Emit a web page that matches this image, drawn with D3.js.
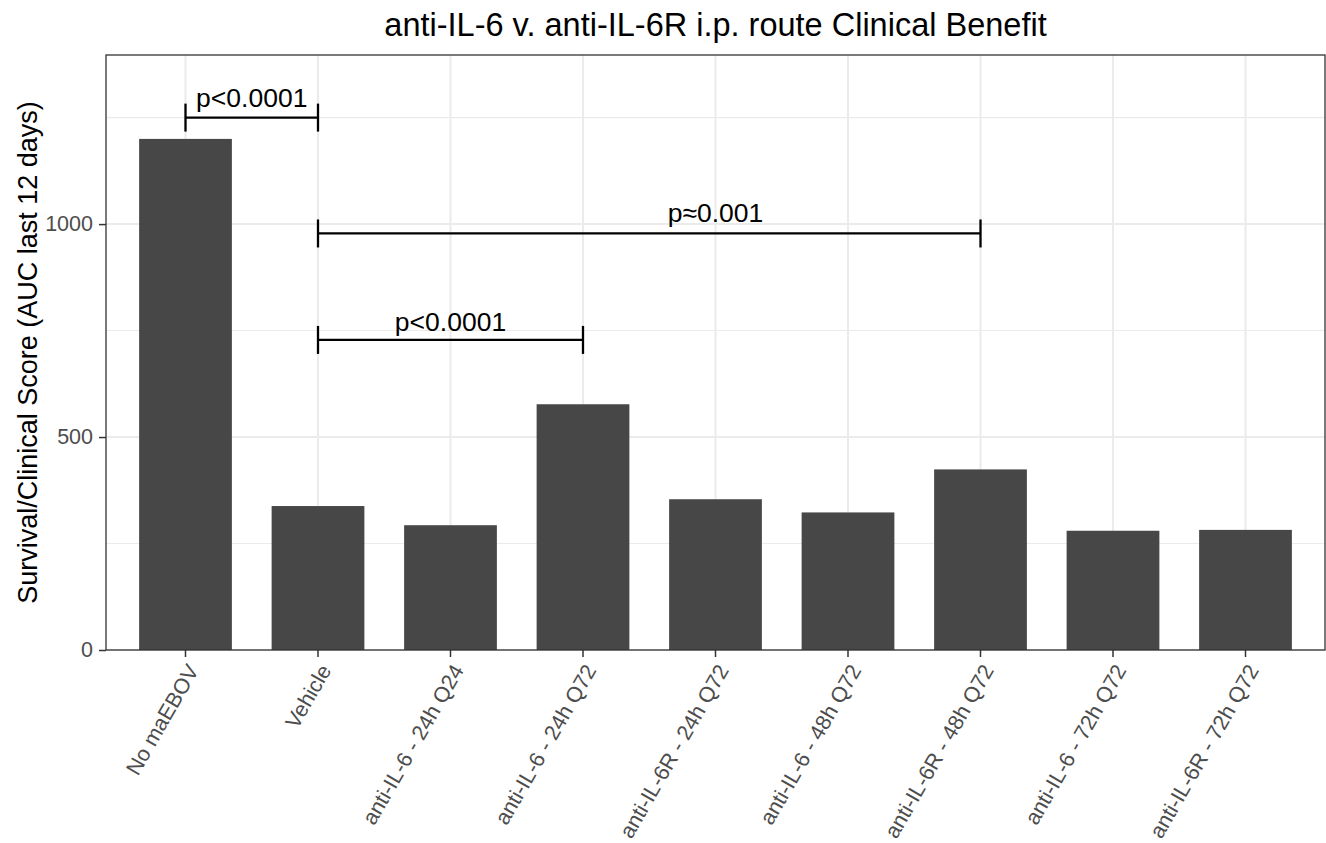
<!DOCTYPE html>
<html>
<head>
<meta charset="utf-8">
<script src="https://cdn.jsdelivr.net/npm/d3@7"></script>
<style>
  body { margin: 0; background: #fff; }
  svg { display: block; font-family: "Liberation Sans", Arial, Helvetica, sans-serif; }
</style>
</head>
<body>
<div id="chart-area"><svg></svg></div>
<script>
const categories = ['No maEBOV', 'Vehicle', 'anti-IL-6 - 24h Q24', 'anti-IL-6 - 24h Q72',
  'anti-IL-6R - 24h Q72', 'anti-IL-6 - 48h Q72', 'anti-IL-6R - 48h Q72',
  'anti-IL-6 - 72h Q72', 'anti-IL-6R - 72h Q72'];
const scores = [1200, 338, 293, 577, 354, 323, 424, 280, 282];

const majorTicks = [0, 500, 1000];
const minorTicks = [250, 750, 1250];

// significance brackets (category indices + score level)
const bracketFrom = [0, 1, 1];
const bracketTo = [1, 6, 3];
const bracketLevel = [1250, 978, 728];
const bracketLabels = ['p<0.0001', 'p≈0.001', 'p<0.0001'];
const labelIndex = [0.5, 4, 2];
const labelLevel = [1275, 1005, 750];

const chartSize = { width: 1326, height: 843 };
const panel = { left: 106, right: 1325, top: 55, bottom: 650 };

const draw = () => {
  const svg = d3.select('#chart-area svg')
    .attr('width', chartSize.width)
    .attr('height', chartSize.height);

  const x = d3.scaleBand()
    .domain(categories)
    .range([panel.left, panel.right])
    .paddingInner(0.3)
    .paddingOuter(0.25);

  const y = d3.scaleLinear()
    .domain([0, 1397])
    .range([panel.bottom, panel.top]);

  const xc = i => x(categories[0]) + x.bandwidth() / 2 + i * x.step();

  // grid
  const grid = svg.append('g');
  grid.selectAll('.minor')
    .data(minorTicks)
    .enter().append('line')
    .attr('x1', panel.left).attr('x2', panel.right)
    .attr('y1', d => y(d)).attr('y2', d => y(d))
    .attr('stroke', '#ebebeb').attr('stroke-width', 1.1);
  grid.selectAll('.major')
    .data(majorTicks)
    .enter().append('line')
    .attr('x1', panel.left).attr('x2', panel.right)
    .attr('y1', d => y(d)).attr('y2', d => y(d))
    .attr('stroke', '#ebebeb').attr('stroke-width', 2);
  grid.selectAll('.vmajor')
    .data(categories)
    .enter().append('line')
    .attr('x1', d => x(d) + x.bandwidth() / 2).attr('x2', d => x(d) + x.bandwidth() / 2)
    .attr('y1', panel.top).attr('y2', panel.bottom)
    .attr('stroke', '#ebebeb').attr('stroke-width', 2);

  // bars
  svg.append('g').selectAll('rect')
    .data(scores)
    .enter().append('rect')
    .attr('x', (d, i) => x(categories[i]))
    .attr('y', d => y(d))
    .attr('width', x.bandwidth())
    .attr('height', d => y(0) - y(d))
    .attr('fill', '#474747');

  // brackets
  const br = svg.append('g')
    .attr('stroke', '#000')
    .attr('stroke-width', 2.3);
  bracketLevel.forEach((lvl, k) => {
    const x1 = xc(bracketFrom[k]);
    const x2 = xc(bracketTo[k]);
    br.append('line').attr('x1', x1).attr('x2', x2).attr('y1', y(lvl)).attr('y2', y(lvl));
    [x1, x2].forEach(xx => {
      br.append('line').attr('x1', xx).attr('x2', xx)
        .attr('y1', y(lvl) - 14).attr('y2', y(lvl) + 14);
    });
  });
  svg.append('g').selectAll('text')
    .data(bracketLabels)
    .enter().append('text')
    .attr('x', (d, i) => xc(labelIndex[i]))
    .attr('y', (d, i) => y(labelLevel[i]))
    .attr('text-anchor', 'middle')
    .attr('font-size', 26.5)
    .attr('fill', '#000')
    .text(d => d);

  // panel border
  svg.append('rect')
    .attr('x', panel.left).attr('y', panel.top)
    .attr('width', panel.right - panel.left)
    .attr('height', panel.bottom - panel.top)
    .attr('fill', 'none')
    .attr('stroke', '#333333')
    .attr('stroke-width', 1.3);

  // y axis
  const yAxis = d3.axisLeft(y)
    .tickValues(majorTicks)
    .tickSize(7)
    .tickPadding(6)
    .tickFormat(d3.format('d'));
  const ya = svg.append('g')
    .attr('class', 'y-axis')
    .attr('transform', `translate(${panel.left},0)`)
    .call(yAxis);
  ya.select('.domain').remove();
  ya.selectAll('.tick line').attr('stroke', '#333333').attr('stroke-width', 1.5);
  ya.selectAll('.tick text')
    .attr('fill', '#4d4d4d')
    .attr('font-size', 21.5)
    .attr('font-family', '"Liberation Sans", Arial, sans-serif');

  // x axis
  const xAxis = d3.axisBottom(x).tickSize(7).tickPadding(4);
  const xa = svg.append('g')
    .attr('class', 'x-axis')
    .attr('transform', `translate(0,${panel.bottom})`)
    .call(xAxis);
  xa.select('.domain').remove();
  xa.selectAll('.tick line').attr('stroke', '#333333').attr('stroke-width', 1.5);
  xa.selectAll('.tick text')
    .attr('fill', '#4d4d4d')
    .attr('font-size', 21.5)
    .attr('font-family', '"Liberation Sans", Arial, sans-serif')
    .attr('text-anchor', 'end')
    .attr('x', 0)
    .attr('y', 0)
    .attr('dy', '0.75em')
    .attr('transform', 'translate(0,12) rotate(-60)');

  // titles
  svg.append('text')
    .attr('x', (panel.left + panel.right) / 2)
    .attr('y', 36)
    .attr('text-anchor', 'middle')
    .attr('font-size', 32.5)
    .attr('fill', '#000')
    .text('anti-IL-6 v. anti-IL-6R i.p. route Clinical Benefit');

  svg.append('text')
    .attr('transform', `translate(37,${(panel.top + panel.bottom) / 2}) rotate(-90)`)
    .attr('text-anchor', 'middle')
    .attr('font-size', 27)
    .attr('fill', '#000')
    .text('Survival/Clinical Score (AUC last 12 days)');
};

window.onload = draw;
</script>
</body>
</html>
